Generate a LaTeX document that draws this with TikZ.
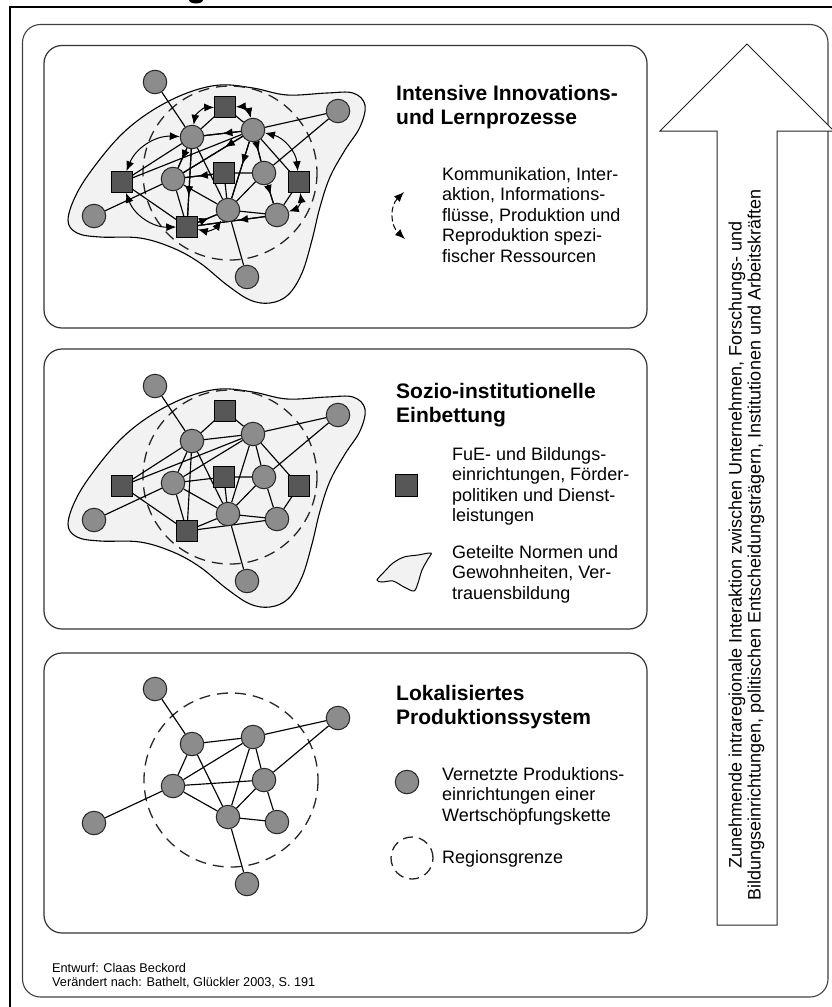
\documentclass[tikz,border=0pt]{standalone}
\usepackage{fontspec}
\setmainfont{Liberation Sans}
\usetikzlibrary{arrows.meta,decorations.markings}

\pgfdeclarelayer{back}
\pgfdeclarelayer{mid}
\pgfsetlayers{back,mid,main}

% production sites of the value chain (same layout in every panel)
\newcommand\sitenodes[1]{%
  \node[site] (#1A) at (155,82) {};
  \node[site] (#1B) at (338,111) {};
  \node[site] (#1C) at (94,216) {};
  \node[site] (#1D) at (247,277) {};
  \node[site] (#1E) at (192,137) {};
  \node[site] (#1F) at (253,130) {};
  \node[site] (#1G) at (173,179) {};
  \node[site] (#1H) at (264,173) {};
  \node[site] (#1I) at (228,210) {};
  \node[site] (#1J) at (277,215) {};
}
% institutions (R&D, education, support, services)
\newcommand\instnodes[1]{%
  \node[inst] (#1S1) at (225,107) {};
  \node[inst] (#1S2) at (224,173) {};
  \node[inst] (#1S3) at (122,182) {};
  \node[inst] (#1S4) at (299,182) {};
  \node[inst] (#1S5) at (187,227) {};
}
% shared norms: the milieu around the network
\newcommand\milieupath{plot[smooth cycle,tension=0.6] coordinates {
  (68,220) (77,193) (97,163) (123,133) (153,110) (187,93) (220,85)
  (253,88) (287,95) (327,93) (353,93) (365,105) (360,127) (345,150)
  (330,177) (320,207) (312,240) (302,273) (288,295) (270,303) (250,300)
  (227,285) (200,263) (173,248) (140,238) (100,237) (77,233)}}
% links shared by the two upper panels
\newcommand\instlinks[1]{%
  \draw[link] (#1A)--(#1E) (#1E)--(#1F) (#1F)--(#1B) (#1B)--(#1H)
    (#1S1)--(#1E) (#1S1)--(#1F) (#1S3)--(#1E) (#1S3)--(#1F)
    (#1C)--(#1G) (#1S3)--(#1S5) (#1E)--(#1G) (#1E)--(#1S5) (#1E)--(#1I)
    (#1G)--(#1S2) (#1G)--(#1S5) (#1G)--(#1F) (#1S2)--(#1H) (#1F)--(#1I)
    (#1F)--(#1H) (#1F)--(#1S4) (#1H)--(#1I) (#1H)--(#1J) (#1I)--(#1J)
    (#1S4)--(#1J) (#1S5)--(#1I) (#1S5)--(#1J) (#1I)--(#1D) (#1S2)--(#1I)
    (#1G)--(#1I);
}

\begin{document}
\begin{tikzpicture}[x=1pt,y=-1pt,
  site/.style={circle,draw=black!85,fill=black!45,line width=1pt,minimum size=23.5pt,inner sep=0pt},
  inst/.style={rectangle,draw=black,fill=black!66,line width=1pt,minimum size=20.5pt,inner sep=0pt},
  link/.style={draw=black,line width=1.15pt},
  region/.style={draw=black!85,line width=1.3pt,dash pattern=on 11pt off 7pt},
  milieu/.style={draw=black,fill=black!5,line width=1.1pt},
  panel/.style={draw=black!80,line width=1.2pt,rounded corners=18pt},
  flowtip/.tip={Latex[length=10pt,width=8pt]},
  midflow/.style={postaction={decorate,decoration={markings,mark=at position #1 with {\arrow{flowtip}}}}},
  exchange/.style={draw=black,line width=1pt,{flowtip}-{flowtip}},
  title/.style={font=\fontsize{21}{24.5}\selectfont\bfseries,align=left,anchor=north west,inner sep=0pt},
  body/.style={font=\fontsize{18}{20.5}\selectfont,align=left,anchor=north west,inner sep=0pt},
  footer/.style={font=\fontsize{12.7}{14}\selectfont,align=left,anchor=north west,inner sep=0pt}]

\useasboundingbox (0,0) rectangle (831,1007);

% page frame and cut-off heading above
\fill (196,0) ellipse[x radius=7, y radius=3.5];
\draw[line width=2.6pt] (10,1012) -- (10,7) -- (840,7);

% outer frame and the three panels
\draw[draw=black!75,line width=1.1pt,rounded corners=18pt] (22.5,24.5) rectangle (828,997);
\draw[panel] (44,45.5) rectangle (647,328);
\draw[panel] (44,349) rectangle (647,629);
\draw[panel] (44,653) rectangle (647,933);

% ---------- panel 1: innovation and learning ----------
\begin{pgfonlayer}{back}
  \filldraw[milieu] \milieupath;
  \draw[region] (230,173) circle[radius=87];
\end{pgfonlayer}
\sitenodes{a}
\instnodes{a}
\begin{pgfonlayer}{mid}
  \instlinks{a}
  \draw[link,midflow=0.5] (aF)--(aE);
  \draw[link,midflow=0.6] (aE)--(aG);
  \draw[link,midflow=0.55] (aS2)--(aG);
  \draw[link,midflow=0.7] (aE)--(aS5);
  \draw[link,midflow=0.5] (aF)--(aH);
  \draw[link,midflow=0.6] (aS5)--(aI);
  \draw[link,midflow=0.3] (aF)--(aG);
  \draw[link,midflow=0.4] (aF)--(aI);
  \draw[link,midflow=0.4] (aJ)--(aS5);
  \draw[link,midflow=0.55] (aH)--(aJ);
  \draw[exchange] (aE) to[bend left=40] (aS1);
  \draw[exchange] (aF) to[bend right=40] (aS1);
  \draw[exchange] (aS3) to[bend left=35] (aE);
  \draw[exchange] (aS3) to[bend right=35] (aS5);
  \draw[exchange] (aF) to[bend left=35] (aS4);
  \draw[exchange] (aJ) to[bend right=40] (aS4);
  \draw[exchange] (aI) to[bend left=35] (aS5);
\end{pgfonlayer}

\node[title] (t1) at (396,85) {Intensive Innovations-\\und Lernprozesse};
\node[body] (k1) at (442,167) {Kommunikation, Inter-\\aktion, Informations-\\flüsse, Produktion und\\Reproduktion spezi-\\fischer Ressourcen};
\coordinate (icontop) at (404,192);
\coordinate (iconbot) at (405,239);
\draw[exchange,dash pattern=on 6pt off 3pt] (icontop) .. controls (390,206) and (390,225) .. (iconbot);

% ---------- panel 2: socio-institutional embedding ----------
\begin{scope}[shift={(0,304)}]
  \begin{pgfonlayer}{back}
    \filldraw[milieu] \milieupath;
    \draw[region] (230,173) circle[radius=87];
  \end{pgfonlayer}
  \sitenodes{b}
  \instnodes{b}
\end{scope}
\begin{pgfonlayer}{mid}
  \instlinks{b}
\end{pgfonlayer}

\node[title] (t2) at (396,383) {Sozio-institutionelle\\Einbettung};
\node[inst,minimum size=22pt] (keyinst) at (406,485) {};
\node[body] (k2) at (452,447) {FuE- und Bildungs-\\einrichtungen, Förder-\\politiken und Dienst-\\leistungen};
\filldraw[milieu,line width=1pt] plot[smooth cycle,tension=0.5] coordinates {
  (431,553) (418,555) (404,557) (393,563) (385,571) (377,580) (382,582)
  (393,581) (404,587) (414,591) (418,583) (422,570) (428,559)};
\node[body] (k3) at (452,545) {Geteilte Normen und\\Gewohnheiten, Ver-\\trauensbildung};

% ---------- panel 3: localised production system ----------
\begin{scope}[shift={(0,607)}]
  \begin{pgfonlayer}{back}
    \draw[region] (231,173) circle[radius=87];
  \end{pgfonlayer}
  \sitenodes{c}
\end{scope}
\begin{pgfonlayer}{mid}
  \draw[link] (cA)--(cE) (cE)--(cF) (cF)--(cB) (cB)--(cH) (cC)--(cG)
    (cI)--(cD) (cE)--(cG) (cE)--(cI) (cG)--(cF) (cG)--(cH) (cG)--(cI)
    (cF)--(cI) (cF)--(cH) (cH)--(cI) (cH)--(cJ) (cI)--(cJ);
\end{pgfonlayer}

\node[title] (t3) at (396,685) {Lokalisiertes\\Produktionssystem};
\node[site] (keysite) at (407,782) {};
\node[body] (k4) at (442,767) {Vernetzte Produktions-\\einrichtungen einer\\Wertschöpfungskette};
\node[circle,region,dash pattern=on 10pt off 6pt,minimum size=42pt,inner sep=0pt] (keyregion) at (412,858) {};
\node[body] (k5) at (442,850) {Regionsgrenze};

% ---------- rising arrow ----------
\draw[draw=black!85,line width=1pt,fill=white]
  (717,925) -- (717,131) -- (660,131) -- (747,44) -- (834,131) -- (777,131) -- (777,925) -- cycle;
\node[rotate=90,align=center,font=\fontsize{18}{19}\selectfont] (trend) at (746.5,545)
  {Zunehmende intraregionale Interaktion zwischen Unternehmen, Forschungs- und\\
   Bildungseinrichtungen, politischen Entscheidungsträgern, Institutionen und Arbeitskräften};

% ---------- credits ----------
\node[footer] (credit) at (52,963) {Entwurf: Claas Beckord\\Verändert nach: Bathelt, Glückler 2003, S. 191};
\end{tikzpicture}
\end{document}
